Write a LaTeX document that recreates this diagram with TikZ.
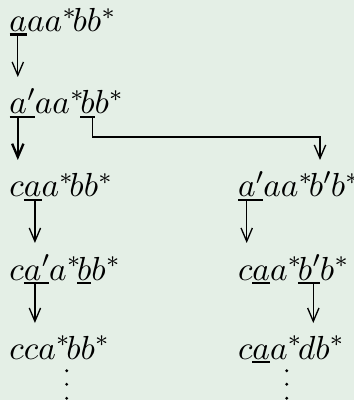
\documentclass[tikz,border=0pt]{standalone}
\usetikzlibrary{arrows.meta,calc}
\definecolor{bgc}{RGB}{228,239,230}
\newcommand\myast{^{*\kern-1pt}}
\begin{document}
\begin{tikzpicture}[x=0.3pt,y=-0.3pt,
  seg/.style={inner sep=0pt,outer sep=0pt,anchor=base west},
  ul/.style={line width=0.75pt},
  arr/.style={line width=0.4pt,-{Straight Barb[length=4pt,width=3.4pt]}},
  arrb/.style={arr,line width=0.7pt}]
\scriptspace=0pt
\fill[bgc] (0,0) rectangle (354,400);
\useasboundingbox (0,0) rectangle (354,400);
% row 1
\node[seg] (r1u) at (9.5,31.7) {$a$};
\node[seg] (r1e) at (r1u.base east) {$aa\myast bb\myast$};
% row 2
\node[seg] (r2u) at (9.5,114) {$a'$};
\node[seg] (r2m) at (r2u.base east) {$aa\myast$};
\node[seg] (r2v) at (r2m.base east) {$b$};
\node[seg] (r2e) at (r2v.base east) {$b\myast$};
% row 3 left
\node[seg] (r3c) at (9.5,197) {$c$};
\node[seg] (r3u) at (r3c.base east) {$a$};
\node[seg] (r3e) at (r3u.base east) {$a\myast bb\myast$};
% row 3 right
\node[seg] (s3u) at (238,197) {$a'$};
\node[seg] (s3e) at (s3u.base east) {$aa\myast b'b\myast$};
% row 4 left
\node[seg] (r4c) at (9.5,280) {$c$};
\node[seg] (r4u) at (r4c.base east) {$a'$};
\node[seg] (r4m) at (r4u.base east) {$a\myast$};
\node[seg] (r4v) at (r4m.base east) {$b$};
\node[seg] (r4e) at (r4v.base east) {$b\myast$};
% row 4 right
\node[seg] (s4c) at (238,280) {$c$};
\node[seg] (s4u) at (s4c.base east) {$a$};
\node[seg] (s4m) at (s4u.base east) {$a\myast$};
\node[seg] (s4v) at (s4m.base east) {$b'$};
\node[seg] (s4e) at (s4v.base east) {$b\myast$};
% row 5
\node[seg] (r5) at (9.5,359) {$cca\myast bb\myast$};
\node[seg] (s5c) at (238,359) {$c$};
\node[seg] (s5u) at (s5c.base east) {$a$};
\node[seg] (s5e) at (s5u.base east) {$a\myast db\myast$};
% underlines
\foreach \n in {r1u,r2u,r2v,r3u,s3u,r4u,r4v,s4u,s4v,s5u}
  \draw[ul] ([yshift=-0.9pt]\n.base west) -- ([yshift=-0.9pt]\n.base east);
% arrows
\coordinate (a1) at ($(r1u.base west)+(8.3,4.3)$);
\coordinate (t2) at ($(r2u.base west)+(0,-37)$);
\draw[arr] (a1) -- (a1 |- t2);
\coordinate (a2) at ($(r2u.base west)+(8.3,4.3)$);
\coordinate (t3) at ($(r3c.base west)+(0,-37)$);
\draw[arrb] (a2) -- (a2 |- t3);
\coordinate (b2) at ($(r2v.base west)+(12,4.3)$);
\coordinate (k3) at ($(s3u.base west)+(82,-60)$);
\coordinate (e3) at ($(s3u.base west)+(82,-37)$);
\draw[arr] (b2) |- (k3) -- (e3);
\coordinate (a3) at ($(r3u.base west)+(11,4.3)$);
\coordinate (t4) at ($(r4c.base west)+(0,-37)$);
\draw[arr] (a3) -- (a3 |- t4);
\coordinate (c3) at ($(s3u.base west)+(8.7,4.3)$);
\coordinate (u4) at ($(s4c.base west)+(0,-37)$);
\draw[arr] (c3) -- (c3 |- u4);
\coordinate (a4) at ($(r4u.base west)+(11,4.3)$);
\coordinate (t5) at ($(r5.base west)+(0,-36)$);
\draw[arr] (a4) -- (a4 |- t5);
\coordinate (c4) at ($(s4v.base west)+(15.3,4.3)$);
\coordinate (u5) at ($(s5c.base west)+(0,-36)$);
\draw[arr] (c4) -- (c4 |- u5);
% dots
\foreach \dy in {11.7,25.3,39.3} {
  \fill ($(r5.base west)+(57.2,\dy)$) circle[radius=1.6];
  \fill ($(s5c.base west)+(48.7,\dy)$) circle[radius=1.6];
}
\end{tikzpicture}
\end{document}
